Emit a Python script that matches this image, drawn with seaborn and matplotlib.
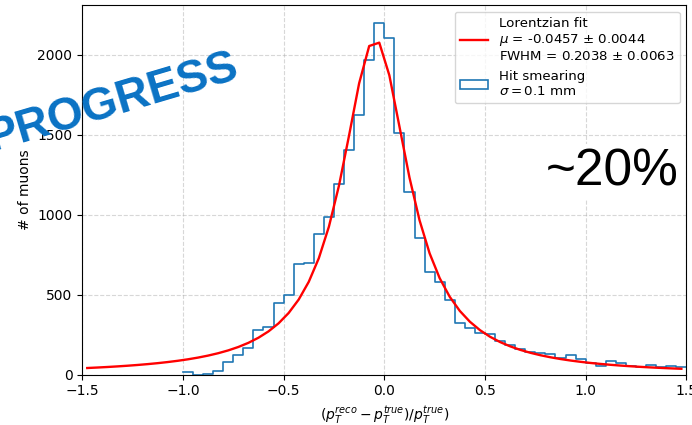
import numpy as np
import pandas as pd
import matplotlib
matplotlib.use("Agg")
import matplotlib.pyplot as plt
from matplotlib.lines import Line2D
from matplotlib.patches import Patch
import seaborn as sns

# Histogram of the relative pT resolution (bin width 0.05, edges from -1.0 to 1.5)
bin_edges = [round(-1.0 + 0.05 * i, 3) for i in range(51)]
counts = [
    15, 0, 5, 23, 78, 122, 170, 280, 297, 448,
    498, 693, 697, 881, 989, 1190, 1403, 1625, 1968, 2202,
    2104, 1514, 1144, 858, 645, 578, 466, 322, 294, 262,
    257, 213, 185, 160, 144, 134, 127, 106, 124, 97,
    74, 57, 88, 75, 57, 50, 59, 46, 52, 48,
]

# Lorentzian fit results
fit_amp = 2098.0
fit_mu = -0.0457
fit_mu_err = 0.0044
fit_fwhm = 0.2038
fit_fwhm_err = 0.0063
fit_x = [round(-1.475 + 0.05 * i, 3) for i in range(60)]

x_ticks = [-1.5, -1.0, -0.5, 0.0, 0.5, 1.0, 1.5]


def lorentzian(x, a, x0, w):
    return a / (1.0 + ((x - x0) / w) ** 2)


edges_arr = np.array(bin_edges)
hist_df = pd.DataFrame({
    "resolution": 0.5 * (edges_arr[:-1] + edges_arr[1:]),
    "muons": counts,
})
fit_df = pd.DataFrame({"resolution": fit_x})
fit_df["muons"] = lorentzian(fit_df["resolution"].to_numpy(), fit_amp, fit_mu, fit_fwhm)

hist_color = "#1f77b4"
fit_color = "red"

fig = plt.figure(figsize=(6.92, 4.25), dpi=100)
ax = fig.add_axes([82.2 / 692, 50.3 / 425, 604.2 / 692, 369.7 / 425])

sns.histplot(data=hist_df, x="resolution", weights="muons", bins=bin_edges,
             element="step", fill=False, color=hist_color, linewidth=1.2,
             ax=ax, zorder=2)
sns.lineplot(data=fit_df, x="resolution", y="muons", color=fit_color,
             linewidth=1.7, ax=ax, zorder=3, estimator=None, sort=False)

ax.set_xlim(-1.5, 1.5)
ax.set_ylim(0, 2312)
ax.set_xticks(x_ticks)
ax.grid(True, linestyle="--", color="#b0b0b0", alpha=0.5, linewidth=0.8)
ax.set_axisbelow(True)

ax.set_xlabel(r"$(p_T^{reco} - p_T^{true})/p_T^{true})$", fontsize=10)
ax.set_ylabel("# of muons", fontsize=10)
ax.tick_params(labelsize=10)

handles = [
    Line2D([], [], color=fit_color, linewidth=1.7),
    Patch(facecolor="none", edgecolor=hist_color, linewidth=1.2),
]
labels = [
    "Lorentzian fit\n"
    + rf"$\mu$ = {fit_mu:.4f} $\pm$ {fit_mu_err:.4f}" + "\n"
    + rf"FWHM = {fit_fwhm:.4f} $\pm$ {fit_fwhm_err:.4f}",
    "Hit smearing\n" + r"$\sigma = 0.1$ mm",
]
ax.legend(handles, labels, loc="upper right", fontsize=9.6,
          handlelength=2.1)

# Work-in-progress stamp and headline number
fig.text(116 / 692, 1 - 114 / 425, "PROGRESS", fontsize=33, fontweight="bold",
         family="Liberation Sans", color="#0a72c4", rotation=16.5,
         rotation_mode="anchor", ha="center", va="baseline", zorder=10)
fig.text(546 / 692, 1 - 185 / 425, "~20%", fontsize=37,
         family="Liberation Sans", color="black", ha="left", va="baseline",
         zorder=10,
         bbox=dict(facecolor="white", edgecolor="none", pad=2))

fig.savefig("out.png", dpi=100)
